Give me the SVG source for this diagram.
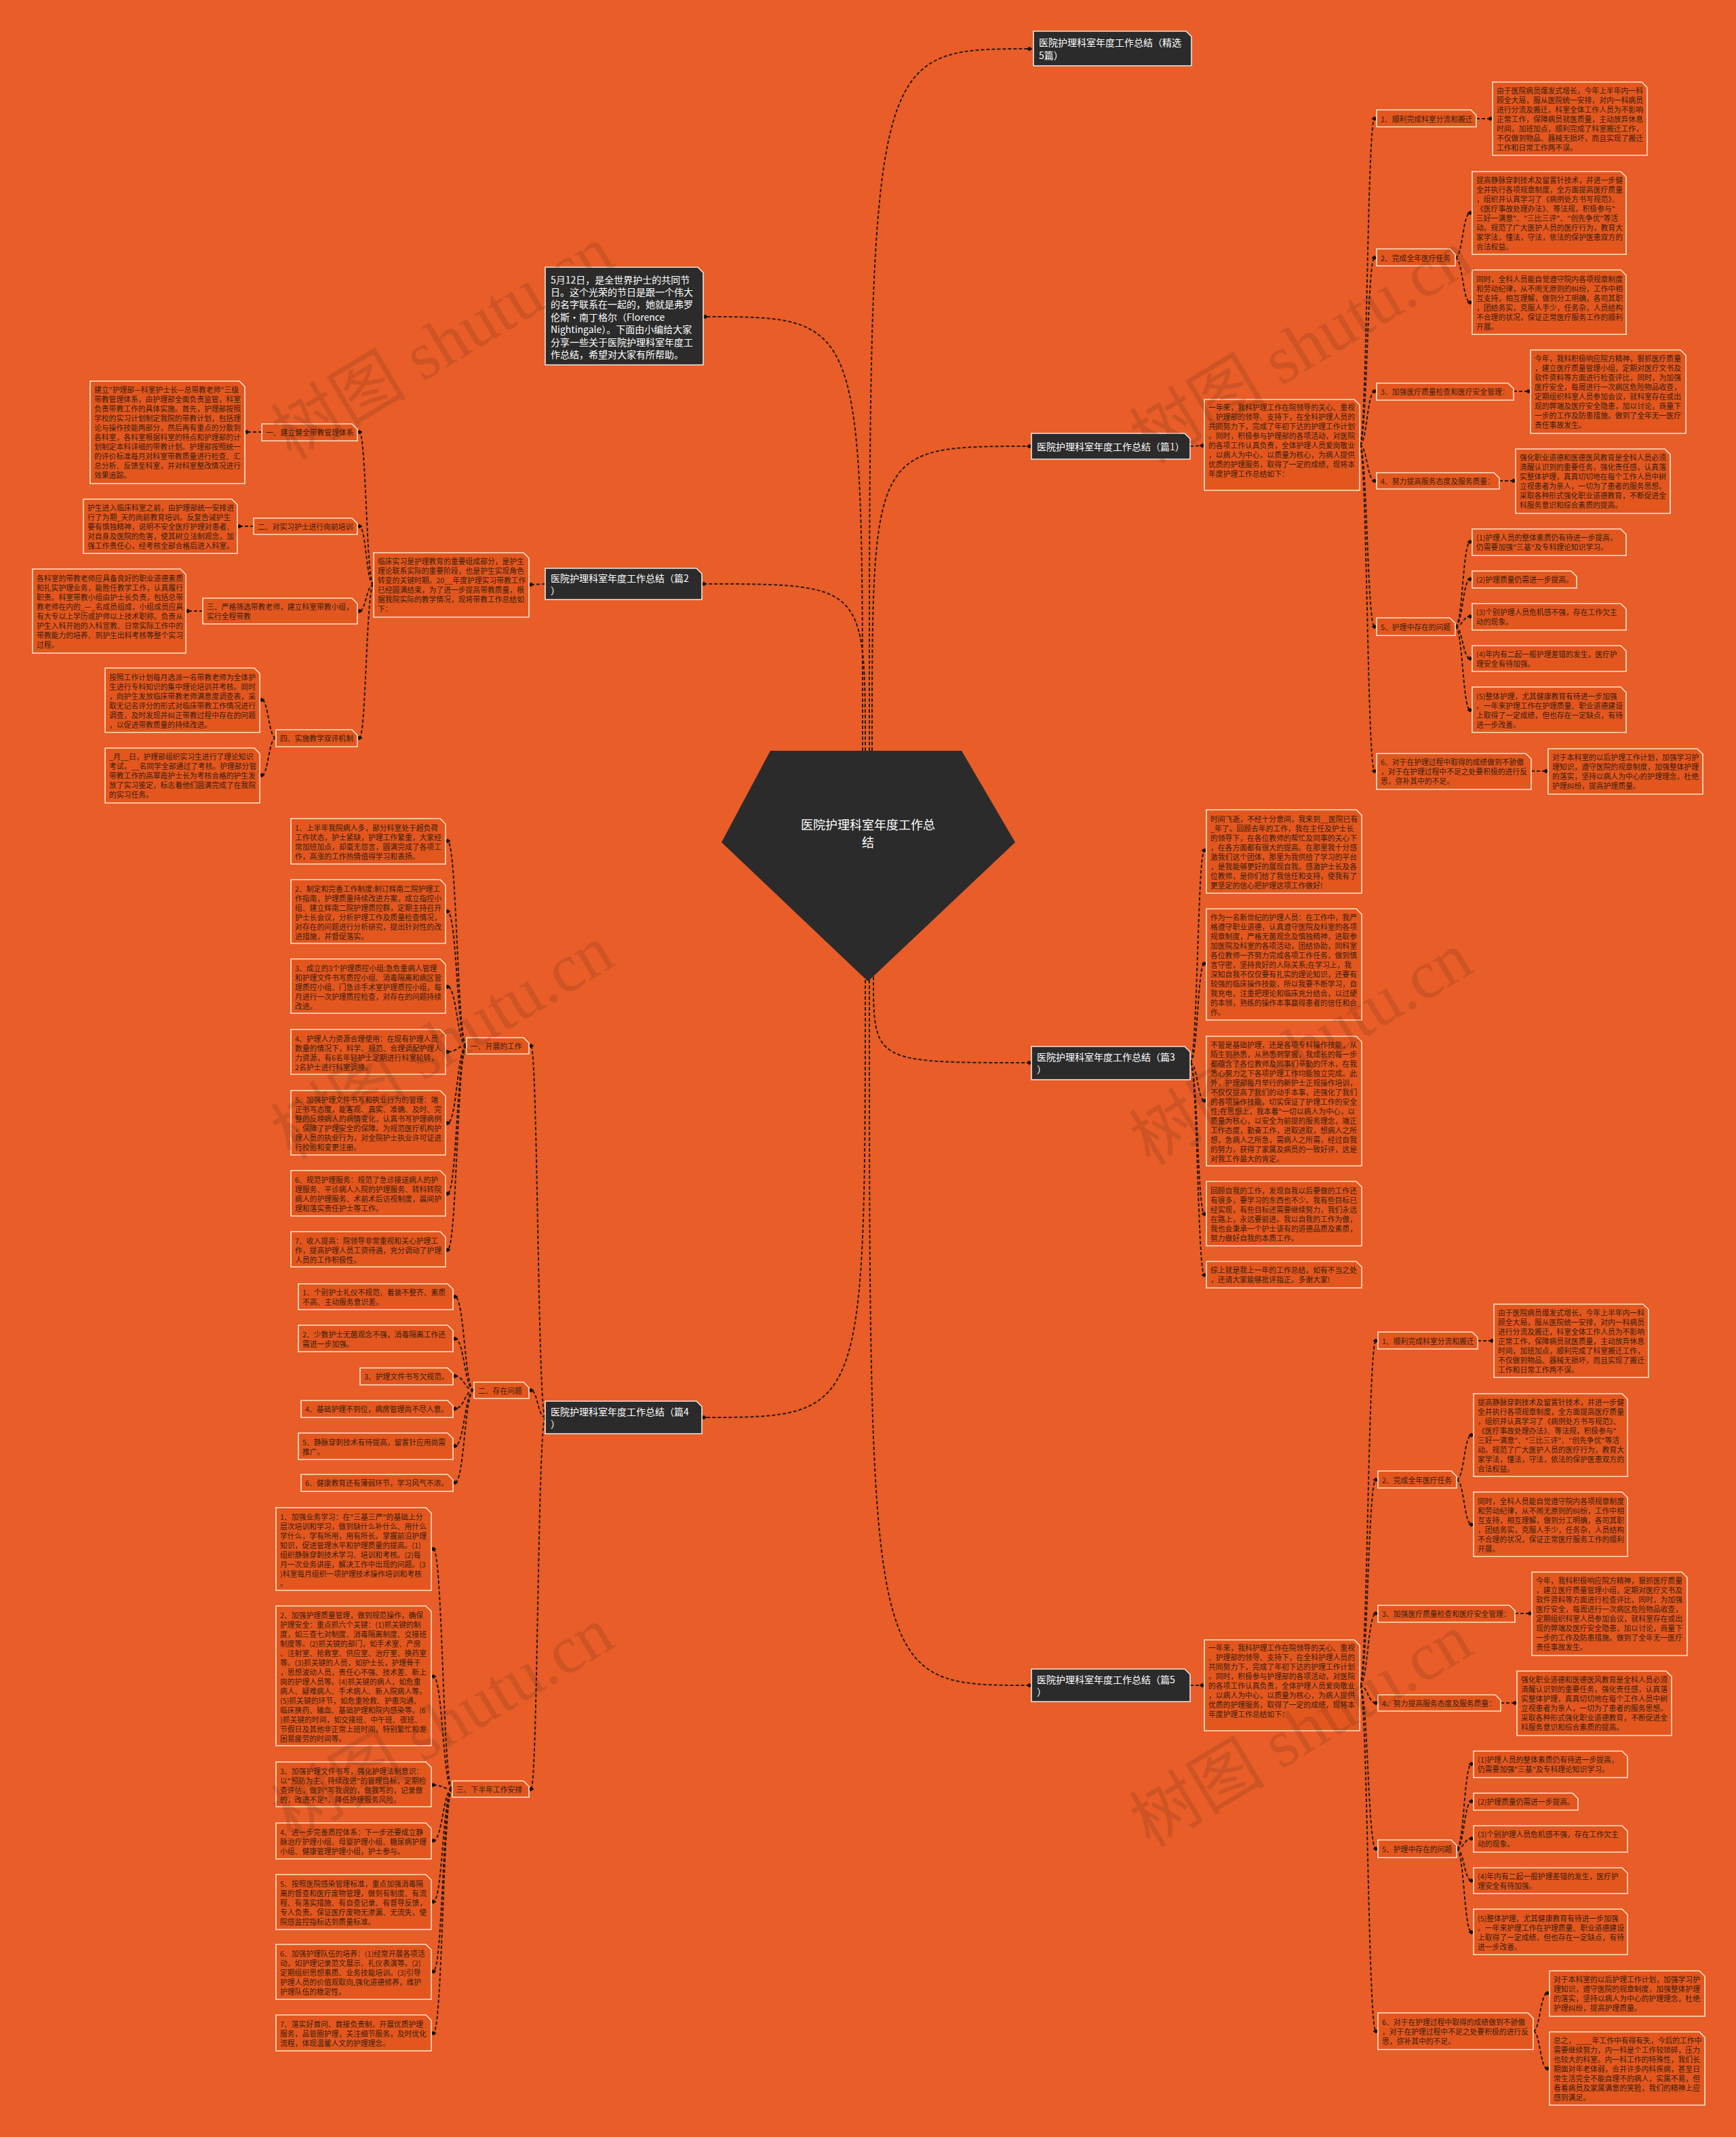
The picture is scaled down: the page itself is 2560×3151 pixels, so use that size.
<svg xmlns="http://www.w3.org/2000/svg" width="2560" height="3151" viewBox="0 0 2560 3151">
<defs>
<style>
.bx{fill:#E3571F;stroke:#FCE2C8;stroke-width:1.6}
.nd{fill:#2B2B2B;stroke:#EDE7E0;stroke-width:1.6}
.t{font-family:"Noto Sans CJK SC","Noto Sans",sans-serif;font-size:10.8px;fill:#3B1C0C;dominant-baseline:central}
.tw{font-family:"Noto Sans CJK SC","Noto Sans",sans-serif;font-size:14px;fill:#FFFFFF;dominant-baseline:central}
.tc{font-family:"Noto Sans CJK SC","Noto Sans",sans-serif;font-size:18px;fill:#FFFFFF;dominant-baseline:central;text-anchor:middle}
.c{fill:none;stroke:#2A1A10;stroke-width:2;stroke-dasharray:5 3;marker-end:url(#dm)}
.wm{font-family:"Liberation Serif","Noto Sans CJK SC",serif;font-size:100px;fill:#4A2A1A;opacity:0.16;text-anchor:middle;dominant-baseline:central}
</style>
<marker id="dm" viewBox="-5 -4 10 8" markerWidth="10" markerHeight="8" markerUnits="userSpaceOnUse" refX="0" refY="0" orient="auto"><path d="M-4.5 0L0 -3.2L4.5 0L0 3.2Z" fill="#1E120A"/></marker>
</defs>
<rect width="2560" height="3151" fill="#E85D28"/>

<g id="connectors">
<path class="c" d="M1282 1107C1282 72 1282 72 1518 72"/>
<path class="c" d="M1272 1107C1272 467 1272 467 1040 467"/>
<path class="c" d="M1286 1107C1286 658 1286 658 1518 658"/>
<path class="c" d="M1276 1107C1276 861 1276 861 1038 861"/>
<path class="c" d="M1288 1440C1288 1567 1288 1567 1518 1567"/>
<path class="c" d="M1276 1445C1276 2090 1276 2090 1038 2090"/>
<path class="c" d="M1282 1445C1282 2485 1282 2485 1518 2485"/>

<path class="c" d="M1755 658L1773 657"/>
<path class="c" d="M2005 656C2016 656 2016 175 2027 175"/>
<path class="c" d="M2005 656C2016 656 2016 380 2027 380"/>
<path class="c" d="M2005 656C2016 656 2016 577 2027 577"/>
<path class="c" d="M2005 656C2016 656 2016 709 2027 709"/>
<path class="c" d="M2005 656C2016 656 2016 924 2027 924"/>
<path class="c" d="M2005 656C2016 656 2016 1137 2027 1137"/>
<path class="c" d="M2177 175L2198 175"/>
<path class="c" d="M2146 380C2157 380 2157 314 2168 314"/>
<path class="c" d="M2146 380C2157 380 2157 446 2168 446"/>
<path class="c" d="M2232 577L2254 577"/>
<path class="c" d="M2211 709L2232 709"/>
<path class="c" d="M2146 924C2157 924 2157 799 2168 799"/>
<path class="c" d="M2146 924C2157 924 2157 854 2168 854"/>
<path class="c" d="M2146 924C2157 924 2157 909 2168 909"/>
<path class="c" d="M2146 924C2157 924 2157 971 2168 971"/>
<path class="c" d="M2146 924C2157 924 2157 1047 2168 1047"/>
<path class="c" d="M2258 1137L2280 1137"/>

<path class="c" d="M1755 2485L1773 2485"/>
<path class="c" d="M2005 2485C2017 2485 2017 1977 2029 1977"/>
<path class="c" d="M2005 2485C2017 2485 2017 2182 2029 2182"/>
<path class="c" d="M2005 2485C2017 2485 2017 2379 2029 2379"/>
<path class="c" d="M2005 2485C2017 2485 2017 2511 2029 2511"/>
<path class="c" d="M2005 2485C2017 2485 2017 2726 2029 2726"/>
<path class="c" d="M2005 2485C2017 2485 2017 2995 2029 2995"/>
<path class="c" d="M2179 1977L2200 1977"/>
<path class="c" d="M2148 2182C2159 2182 2159 2116 2170 2116"/>
<path class="c" d="M2148 2182C2159 2182 2159 2248 2170 2248"/>
<path class="c" d="M2234 2379L2256 2379"/>
<path class="c" d="M2213 2511L2234 2511"/>
<path class="c" d="M2148 2726C2159 2726 2159 2601 2170 2601"/>
<path class="c" d="M2148 2726C2159 2726 2159 2656 2170 2656"/>
<path class="c" d="M2148 2726C2159 2726 2159 2711 2170 2711"/>
<path class="c" d="M2148 2726C2159 2726 2159 2773 2170 2773"/>
<path class="c" d="M2148 2726C2159 2726 2159 2849 2170 2849"/>
<path class="c" d="M2261 2995C2271 2995 2271 2939 2282 2939"/>
<path class="c" d="M2261 2995C2271 2995 2271 3050 2282 3050"/>

<path class="c" d="M1755 1567C1766 1567 1766 1254 1776 1254"/>
<path class="c" d="M1755 1567C1766 1567 1766 1421 1776 1421"/>
<path class="c" d="M1755 1567C1766 1567 1766 1623 1776 1623"/>
<path class="c" d="M1755 1567C1766 1567 1766 1790 1776 1790"/>
<path class="c" d="M1755 1567C1766 1567 1766 1880 1776 1880"/>

<path class="c" d="M804 861L783 862"/>
<path class="c" d="M551 862C540 862 540 637 530 637"/>
<path class="c" d="M551 862C540 862 540 776 530 776"/>
<path class="c" d="M551 862C540 862 540 901 530 901"/>
<path class="c" d="M551 862C540 862 540 1088 530 1088"/>
<path class="c" d="M386 637L364 637"/>
<path class="c" d="M374 776L353 776"/>
<path class="c" d="M299 901L277 901"/>
<path class="c" d="M407 1088C396 1088 396 1032 386 1032"/>
<path class="c" d="M407 1088C396 1088 396 1143 386 1143"/>

<path class="c" d="M804 2090C793 2090 793 1542 783 1542"/>
<path class="c" d="M804 2090C793 2090 793 2050 783 2050"/>
<path class="c" d="M804 2090C793 2090 793 2638 783 2638"/>
<path class="c" d="M688 1542C674 1542 674 1240 660 1240"/>
<path class="c" d="M688 1542C674 1542 674 1344 660 1344"/>
<path class="c" d="M688 1542C674 1542 674 1455 660 1455"/>
<path class="c" d="M688 1542C674 1542 674 1551 660 1551"/>
<path class="c" d="M688 1542C674 1542 674 1656 660 1656"/>
<path class="c" d="M688 1542C674 1542 674 1760 660 1760"/>
<path class="c" d="M688 1542C674 1542 674 1843 660 1843"/>
<path class="c" d="M699 2050C685 2050 685 1912 671 1912"/>
<path class="c" d="M699 2050C685 2050 685 1974 671 1974"/>
<path class="c" d="M699 2050C685 2050 685 2029 671 2029"/>
<path class="c" d="M699 2050C685 2050 685 2077 671 2077"/>
<path class="c" d="M699 2050C685 2050 685 2132 671 2132"/>
<path class="c" d="M699 2050C685 2050 685 2186 671 2186"/>
<path class="c" d="M667 2638C653 2638 653 2284 639 2284"/>
<path class="c" d="M667 2638C653 2638 653 2472 639 2472"/>
<path class="c" d="M667 2638C653 2638 653 2632 639 2632"/>
<path class="c" d="M667 2638C653 2638 653 2714 639 2714"/>
<path class="c" d="M667 2638C653 2638 653 2804 639 2804"/>
<path class="c" d="M667 2638C653 2638 653 2907 639 2907"/>
<path class="c" d="M667 2638C653 2638 653 2998 639 2998"/>
</g>

<g id="center">
<path d="M1136 1107L1418 1107L1497 1242L1280 1447L1064 1242Z" fill="#2B2B2B"/>
<text class="tc"><tspan x="1280" y="1215">医院护理科室年度工作总</tspan><tspan x="1280" y="1241">结</tspan></text>
</g>

<g id="n-top"><path class="nd" d="M1524 46H1749L1757 54V97H1524Z"/><text class="tw"><tspan x="1532" y="62">医院护理科室年度工作总结（精选</tspan><tspan x="1532" y="81">5篇）</tspan></text></g>
<g id="n-intro"><path class="nd" d="M804 394H1029L1037 402V538H804Z"/><text class="tw"><tspan x="812" y="412">5月12日，是全世界护士的共同节</tspan><tspan x="812" y="430">日。这个光荣的节日是跟一个伟大</tspan><tspan x="812" y="448">的名字联系在一起的，她就是弗罗</tspan><tspan x="812" y="467">伦斯·南丁格尔（Florence</tspan><tspan x="812" y="485">Nightingale）。下面由小编给大家</tspan><tspan x="812" y="504">分享一些关于医院护理科室年度工</tspan><tspan x="812" y="522">作总结，希望对大家有所帮助。</tspan></text></g>
<g id="n-p1"><path class="nd" d="M1521 639H1747L1755 647V677H1521Z"/><text class="tw"><tspan x="1529" y="658">医院护理科室年度工作总结（篇1）</tspan></text></g>
<g id="n-p2"><path class="nd" d="M804 838H1027L1035 846V884H804Z"/><text class="tw"><tspan x="812" y="852">医院护理科室年度工作总结（篇2</tspan><tspan x="812" y="870">）</tspan></text></g>
<g id="n-p3"><path class="nd" d="M1521 1543H1747L1755 1551V1592H1521Z"/><text class="tw"><tspan x="1529" y="1558">医院护理科室年度工作总结（篇3</tspan><tspan x="1529" y="1576">）</tspan></text></g>
<g id="n-p4"><path class="nd" d="M804 2066H1027L1035 2074V2114H804Z"/><text class="tw"><tspan x="812" y="2081">医院护理科室年度工作总结（篇4</tspan><tspan x="812" y="2099">）</tspan></text></g>
<g id="n-p5"><path class="nd" d="M1521 2461H1747L1755 2469V2509H1521Z"/><text class="tw"><tspan x="1529" y="2476">医院护理科室年度工作总结（篇5</tspan><tspan x="1529" y="2494">）</tspan></text></g>

<!-- 篇1 -->
<g id="p1-sum"><path class="bx" d="M1776 589H1997L2005 597V723H1776Z"/><text class="t"><tspan x="1782" y="600">一年来，我科护理工作在院领导的关心、重视</tspan><tspan x="1782" y="614">、护理部的领导、支持下，在全科护理人员的</tspan><tspan x="1782" y="628">共同努力下，完成了年初下达的护理工作计划</tspan><tspan x="1782" y="642">。同时，积极参与护理部的各项活动，对医院</tspan><tspan x="1782" y="656">的各项工作认真负责，全体护理人员爱岗敬业</tspan><tspan x="1782" y="670">，以病人为中心，以质量为核心，为病人提供</tspan><tspan x="1782" y="684">优质的护理服务，取得了一定的成绩，现将本</tspan><tspan x="1782" y="698">年度护理工作总结如下：</tspan></text></g>
<g id="p1-i1"><path class="bx" d="M2030 162H2169L2177 170V187H2030Z"/><text class="t"><tspan x="2036" y="175">1、顺利完成科室分流和搬迁</tspan></text></g>
<g id="p1-t1"><path class="bx" d="M2201 121H2421L2429 129V229H2201Z"/><text class="t"><tspan x="2207" y="133">由于医院病员爆发式增长，今年上半年内一科</tspan><tspan x="2207" y="147">顾全大局，服从医院统一安排，对内一科病员</tspan><tspan x="2207" y="161">进行分流及搬迁，科室全体工作人员为不影响</tspan><tspan x="2207" y="175">正常工作，保障病员就医质量，主动放弃休息</tspan><tspan x="2207" y="189">时间，加班加点，顺利完成了科室搬迁工作，</tspan><tspan x="2207" y="203">不仅做到物品、器械无损坏，而且实现了搬迁</tspan><tspan x="2207" y="217">工作和日常工作两不误。</tspan></text></g>
<g id="p1-i2"><path class="bx" d="M2030 367H2138L2146 375V392H2030Z"/><text class="t"><tspan x="2036" y="380">2、完成全年医疗任务</tspan></text></g>
<g id="p1-t2a"><path class="bx" d="M2171 253H2390L2398 261V375H2171Z"/><text class="t"><tspan x="2177" y="265">提高静脉穿刺技术及留置针技术，并进一步健</tspan><tspan x="2177" y="279">全并执行各项规章制度，全方面提高医疗质量</tspan><tspan x="2177" y="293">，组织并认真学习了《病例处方书写规范》、</tspan><tspan x="2177" y="307">《医疗事故处理办法》、等法规，积极参与"</tspan><tspan x="2177" y="321">三好一满意"、"三比三评"、"创先争优"等活</tspan><tspan x="2177" y="335">动。规范了广大医护人员的医疗行为，教育大</tspan><tspan x="2177" y="349">家学法，懂法，守法，依法的保护医患双方的</tspan><tspan x="2177" y="363">合法权益。</tspan></text></g>
<g id="p1-t2b"><path class="bx" d="M2171 398H2390L2398 406V493H2171Z"/><text class="t"><tspan x="2177" y="411">同时，全科人员能自觉遵守院内各项规章制度</tspan><tspan x="2177" y="425">和劳动纪律，从不闹无原则的纠纷，工作中相</tspan><tspan x="2177" y="439">互支持，相互理解，做到分工明确，各司其职</tspan><tspan x="2177" y="453">，团结务实，克服人手少，任务杂，人员结构</tspan><tspan x="2177" y="467">不合理的状况，保证正常医疗服务工作的顺利</tspan><tspan x="2177" y="481">开展。</tspan></text></g>
<g id="p1-i3"><path class="bx" d="M2030 565H2224L2232 573V590H2030Z"/><text class="t"><tspan x="2036" y="577">3、加强医疗质量检查和医疗安全管理：</tspan></text></g>
<g id="p1-t3"><path class="bx" d="M2257 516H2478L2486 524V639H2257Z"/><text class="t"><tspan x="2263" y="528">今年，我科积极响应院方精神，狠抓医疗质量</tspan><tspan x="2263" y="542">，建立医疗质量管理小组，定期对医疗文书及</tspan><tspan x="2263" y="556">软件资料等方面进行检查评比，同时，为加强</tspan><tspan x="2263" y="570">医疗安全，每周进行一次病区危险物品收查，</tspan><tspan x="2263" y="584">定期组织科室人员参加会议，就科室存在或出</tspan><tspan x="2263" y="598">现的弊端及医疗安全隐患，加以讨论，商量下</tspan><tspan x="2263" y="612">一步的工作及防患措施。做到了全年无一医疗</tspan><tspan x="2263" y="626">责任事故发生。</tspan></text></g>
<g id="p1-i4"><path class="bx" d="M2030 697H2203L2211 705V721H2030Z"/><text class="t"><tspan x="2036" y="709">4、努力提高服务态度及服务质量：</tspan></text></g>
<g id="p1-t4"><path class="bx" d="M2235 662H2455L2463 670V757H2235Z"/><text class="t"><tspan x="2241" y="674">强化职业道德和医德医风教育是全科人员必须</tspan><tspan x="2241" y="688">清醒认识到的重要任务，强化责任感，认真落</tspan><tspan x="2241" y="702">实整体护理，真真切切地在每个工作人员中树</tspan><tspan x="2241" y="716">立视患者为亲人，一切为了患者的服务思想。</tspan><tspan x="2241" y="730">采取各种形式强化职业道德教育，不断促进全</tspan><tspan x="2241" y="744">科服务意识和综合素质的提高。</tspan></text></g>
<g id="p1-i5"><path class="bx" d="M2030 911H2138L2146 919V937H2030Z"/><text class="t"><tspan x="2036" y="924">5、护理中存在的问题</tspan></text></g>
<g id="p1-q1"><path class="bx" d="M2171 780H2390L2398 788V819H2171Z"/><text class="t"><tspan x="2177" y="792">(1)护理人员的整体素质仍有待进一步提高，</tspan><tspan x="2177" y="806">仍需要加强"三基"及专科理论知识学习。</tspan></text></g>
<g id="p1-q2"><path class="bx" d="M2171 842H2317L2325 850V867H2171Z"/><text class="t"><tspan x="2177" y="854">(2)护理质量仍需进一步提高。</tspan></text></g>
<g id="p1-q3"><path class="bx" d="M2171 890H2390L2398 898V929H2171Z"/><text class="t"><tspan x="2177" y="902">(3)个别护理人员危机感不强，存在工作欠主</tspan><tspan x="2177" y="916">动的现象。</tspan></text></g>
<g id="p1-q4"><path class="bx" d="M2171 952H2390L2398 960V990H2171Z"/><text class="t"><tspan x="2177" y="964">(4)年内有二起一般护理差错的发生，医疗护</tspan><tspan x="2177" y="978">理安全有待加强。</tspan></text></g>
<g id="p1-q5"><path class="bx" d="M2171 1013H2390L2398 1021V1080H2171Z"/><text class="t"><tspan x="2177" y="1026">(5)整体护理，尤其健康教育有待进一步加强</tspan><tspan x="2177" y="1040">。一年来护理工作在护理质量、职业道德建设</tspan><tspan x="2177" y="1054">上取得了一定成绩，但也存在一定缺点，有待</tspan><tspan x="2177" y="1068">进一步改善。</tspan></text></g>
<g id="p1-i6"><path class="bx" d="M2030 1111H2250L2258 1119V1164H2030Z"/><text class="t"><tspan x="2036" y="1123">6、对于在护理过程中取得的成绩做到不骄傲</tspan><tspan x="2036" y="1137">，对于在护理过程中不足之处要积极的进行反</tspan><tspan x="2036" y="1151">思，弥补其中的不足。</tspan></text></g>
<g id="p1-t6"><path class="bx" d="M2283 1104H2503L2511 1112V1171H2283Z"/><text class="t"><tspan x="2289" y="1116">对于本科室的以后护理工作计划，加强学习护</tspan><tspan x="2289" y="1130">理知识，遵守医院的规章制度，加强整体护理</tspan><tspan x="2289" y="1144">的落实，坚持以病人为中心的护理理念，杜绝</tspan><tspan x="2289" y="1158">护理纠纷，提高护理质量。</tspan></text></g>

<!-- 篇5 -->
<g id="p5-sum"><path class="bx" d="M1776 2418H1997L2005 2426V2552H1776Z"/><text class="t"><tspan x="1782" y="2429">一年来，我科护理工作在院领导的关心、重视</tspan><tspan x="1782" y="2443">、护理部的领导、支持下，在全科护理人员的</tspan><tspan x="1782" y="2457">共同努力下，完成了年初下达的护理工作计划</tspan><tspan x="1782" y="2471">。同时，积极参与护理部的各项活动，对医院</tspan><tspan x="1782" y="2485">的各项工作认真负责，全体护理人员爱岗敬业</tspan><tspan x="1782" y="2499">，以病人为中心，以质量为核心，为病人提供</tspan><tspan x="1782" y="2513">优质的护理服务，取得了一定的成绩，现将本</tspan><tspan x="1782" y="2527">年度护理工作总结如下：</tspan></text></g>
<g id="p5-i1"><path class="bx" d="M2032 1964H2171L2179 1972V1989H2032Z"/><text class="t"><tspan x="2038" y="1977">1、顺利完成科室分流和搬迁</tspan></text></g>
<g id="p5-t1"><path class="bx" d="M2203 1923H2423L2431 1931V2031H2203Z"/><text class="t"><tspan x="2209" y="1935">由于医院病员爆发式增长，今年上半年内一科</tspan><tspan x="2209" y="1949">顾全大局，服从医院统一安排，对内一科病员</tspan><tspan x="2209" y="1963">进行分流及搬迁，科室全体工作人员为不影响</tspan><tspan x="2209" y="1977">正常工作，保障病员就医质量，主动放弃休息</tspan><tspan x="2209" y="1991">时间，加班加点，顺利完成了科室搬迁工作，</tspan><tspan x="2209" y="2005">不仅做到物品、器械无损坏，而且实现了搬迁</tspan><tspan x="2209" y="2019">工作和日常工作两不误。</tspan></text></g>
<g id="p5-i2"><path class="bx" d="M2032 2169H2140L2148 2177V2194H2032Z"/><text class="t"><tspan x="2038" y="2182">2、完成全年医疗任务</tspan></text></g>
<g id="p5-t2a"><path class="bx" d="M2173 2055H2392L2400 2063V2177H2173Z"/><text class="t"><tspan x="2179" y="2067">提高静脉穿刺技术及留置针技术，并进一步健</tspan><tspan x="2179" y="2081">全并执行各项规章制度，全方面提高医疗质量</tspan><tspan x="2179" y="2095">，组织并认真学习了《病例处方书写规范》、</tspan><tspan x="2179" y="2109">《医疗事故处理办法》、等法规，积极参与"</tspan><tspan x="2179" y="2123">三好一满意"、"三比三评"、"创先争优"等活</tspan><tspan x="2179" y="2137">动。规范了广大医护人员的医疗行为，教育大</tspan><tspan x="2179" y="2151">家学法，懂法，守法，依法的保护医患双方的</tspan><tspan x="2179" y="2165">合法权益。</tspan></text></g>
<g id="p5-t2b"><path class="bx" d="M2173 2200H2392L2400 2208V2295H2173Z"/><text class="t"><tspan x="2179" y="2213">同时，全科人员能自觉遵守院内各项规章制度</tspan><tspan x="2179" y="2227">和劳动纪律，从不闹无原则的纠纷，工作中相</tspan><tspan x="2179" y="2241">互支持，相互理解，做到分工明确，各司其职</tspan><tspan x="2179" y="2255">，团结务实，克服人手少，任务杂，人员结构</tspan><tspan x="2179" y="2269">不合理的状况，保证正常医疗服务工作的顺利</tspan><tspan x="2179" y="2283">开展。</tspan></text></g>
<g id="p5-i3"><path class="bx" d="M2032 2367H2226L2234 2375V2392H2032Z"/><text class="t"><tspan x="2038" y="2379">3、加强医疗质量检查和医疗安全管理：</tspan></text></g>
<g id="p5-t3"><path class="bx" d="M2259 2318H2480L2488 2326V2441H2259Z"/><text class="t"><tspan x="2265" y="2330">今年，我科积极响应院方精神，狠抓医疗质量</tspan><tspan x="2265" y="2344">，建立医疗质量管理小组，定期对医疗文书及</tspan><tspan x="2265" y="2358">软件资料等方面进行检查评比，同时，为加强</tspan><tspan x="2265" y="2372">医疗安全，每周进行一次病区危险物品收查，</tspan><tspan x="2265" y="2386">定期组织科室人员参加会议，就科室存在或出</tspan><tspan x="2265" y="2400">现的弊端及医疗安全隐患，加以讨论，商量下</tspan><tspan x="2265" y="2414">一步的工作及防患措施。做到了全年无一医疗</tspan><tspan x="2265" y="2428">责任事故发生。</tspan></text></g>
<g id="p5-i4"><path class="bx" d="M2032 2499H2205L2213 2507V2523H2032Z"/><text class="t"><tspan x="2038" y="2511">4、努力提高服务态度及服务质量：</tspan></text></g>
<g id="p5-t4"><path class="bx" d="M2237 2464H2457L2465 2472V2559H2237Z"/><text class="t"><tspan x="2243" y="2476">强化职业道德和医德医风教育是全科人员必须</tspan><tspan x="2243" y="2490">清醒认识到的重要任务，强化责任感，认真落</tspan><tspan x="2243" y="2504">实整体护理，真真切切地在每个工作人员中树</tspan><tspan x="2243" y="2518">立视患者为亲人，一切为了患者的服务思想。</tspan><tspan x="2243" y="2532">采取各种形式强化职业道德教育，不断促进全</tspan><tspan x="2243" y="2546">科服务意识和综合素质的提高。</tspan></text></g>
<g id="p5-i5"><path class="bx" d="M2032 2713H2140L2148 2721V2739H2032Z"/><text class="t"><tspan x="2038" y="2726">5、护理中存在的问题</tspan></text></g>
<g id="p5-q1"><path class="bx" d="M2173 2582H2392L2400 2590V2621H2173Z"/><text class="t"><tspan x="2179" y="2594">(1)护理人员的整体素质仍有待进一步提高，</tspan><tspan x="2179" y="2608">仍需要加强"三基"及专科理论知识学习。</tspan></text></g>
<g id="p5-q2"><path class="bx" d="M2173 2644H2319L2327 2652V2669H2173Z"/><text class="t"><tspan x="2179" y="2656">(2)护理质量仍需进一步提高。</tspan></text></g>
<g id="p5-q3"><path class="bx" d="M2173 2692H2392L2400 2700V2731H2173Z"/><text class="t"><tspan x="2179" y="2704">(3)个别护理人员危机感不强，存在工作欠主</tspan><tspan x="2179" y="2718">动的现象。</tspan></text></g>
<g id="p5-q4"><path class="bx" d="M2173 2754H2392L2400 2762V2792H2173Z"/><text class="t"><tspan x="2179" y="2766">(4)年内有二起一般护理差错的发生，医疗护</tspan><tspan x="2179" y="2780">理安全有待加强。</tspan></text></g>
<g id="p5-q5"><path class="bx" d="M2173 2815H2392L2400 2823V2882H2173Z"/><text class="t"><tspan x="2179" y="2828">(5)整体护理，尤其健康教育有待进一步加强</tspan><tspan x="2179" y="2842">。一年来护理工作在护理质量、职业道德建设</tspan><tspan x="2179" y="2856">上取得了一定成绩，但也存在一定缺点，有待</tspan><tspan x="2179" y="2870">进一步改善。</tspan></text></g>
<g id="p5-i6"><path class="bx" d="M2032 2968H2253L2261 2976V3022H2032Z"/><text class="t"><tspan x="2038" y="2981">6、对于在护理过程中取得的成绩做到不骄傲</tspan><tspan x="2038" y="2995">，对于在护理过程中不足之处要积极的进行反</tspan><tspan x="2038" y="3009">思，弥补其中的不足。</tspan></text></g>
<g id="p5-t6a"><path class="bx" d="M2285 2906H2506L2514 2914V2973H2285Z"/><text class="t"><tspan x="2291" y="2918">对于本科室的以后护理工作计划，加强学习护</tspan><tspan x="2291" y="2932">理知识，遵守医院的规章制度，加强整体护理</tspan><tspan x="2291" y="2946">的落实，坚持以病人为中心的护理理念，杜绝</tspan><tspan x="2291" y="2960">护理纠纷，提高护理质量。</tspan></text></g>
<g id="p5-t6b"><path class="bx" d="M2285 2996H2506L2514 3004V3104H2285Z"/><text class="t"><tspan x="2291" y="3008">总之，____年工作中有得有失，今后的工作中</tspan><tspan x="2291" y="3022">需要继续努力，内一科是个工作较琐碎，压力</tspan><tspan x="2291" y="3036">也较大的科室。内一科工作的特殊性，我们长</tspan><tspan x="2291" y="3050">期面对年老体弱，合并许多内科疾病，甚至日</tspan><tspan x="2291" y="3064">常生活完全不能自理不的病人，实属不易，但</tspan><tspan x="2291" y="3078">看着病员及家属满意的笑脸，我们的精神上应</tspan><tspan x="2291" y="3092">感到满足。</tspan></text></g>

<!-- 篇3 -->
<g id="p3-b1"><path class="bx" d="M1779 1194H2000L2008 1202V1317H1779Z"/><text class="t"><tspan x="1785" y="1207">时间飞逝，不经十分意间，我来到__医院已有</tspan><tspan x="1785" y="1221">_年了。回顾去年的工作，我在主任及护士长</tspan><tspan x="1785" y="1235">的领导下，在各位教师的帮忙及同事的关心下</tspan><tspan x="1785" y="1249">，在各方面都有很大的提高。在那里我十分感</tspan><tspan x="1785" y="1263">激我们这个团体，那里为我供给了学习的平台</tspan><tspan x="1785" y="1277">，是我能够更好的展现自我。感激护士长及各</tspan><tspan x="1785" y="1291">位教师，是你们给了我信任和支持，使我有了</tspan><tspan x="1785" y="1305">更坚定的信心把护理这项工作做好!</tspan></text></g>
<g id="p3-b2"><path class="bx" d="M1779 1340H2000L2008 1348V1504H1779Z"/><text class="t"><tspan x="1785" y="1352">作为一名新世纪的护理人员：在工作中，我严</tspan><tspan x="1785" y="1366">格遵守职业道德，认真遵守医院及科室的各项</tspan><tspan x="1785" y="1380">规章制度，严格无菌观念及慎独精神，进取参</tspan><tspan x="1785" y="1394">加医院及科室的各项活动，团结协助，同科室</tspan><tspan x="1785" y="1408">各位教师一齐努力完成各项工作任务，做到慎</tspan><tspan x="1785" y="1422">言守密，坚持良好的人际关系;在学习上，我</tspan><tspan x="1785" y="1436">深知自我不仅仅要有扎实的理论知识，还要有</tspan><tspan x="1785" y="1450">较强的临床操作技能，所以我要不断学习，自</tspan><tspan x="1785" y="1464">我充电，注重把理论和临床充分结合，以过硬</tspan><tspan x="1785" y="1478">的本领，熟练的操作本事赢得患者的信任和合</tspan><tspan x="1785" y="1492">作。</tspan></text></g>
<g id="p3-b3"><path class="bx" d="M1779 1528H2000L2008 1536V1719H1779Z"/><text class="t"><tspan x="1785" y="1540">不管是基础护理，还是各项专科操作技能，从</tspan><tspan x="1785" y="1554">陌生到熟悉，从熟悉到掌握，我成长的每一步</tspan><tspan x="1785" y="1568">都蕴含了各位教师及同事们辛勤的汗水，在我</tspan><tspan x="1785" y="1582">悉心努力之下各项护理工作均能独立完成。此</tspan><tspan x="1785" y="1596">外，护理部每月举行的新护士正规操作培训，</tspan><tspan x="1785" y="1610">不仅仅提高了我们的动手本事，还强化了我们</tspan><tspan x="1785" y="1624">的各项操作技能，切实保证了护理工作的安全</tspan><tspan x="1785" y="1638">性;在思想上，我本着"一切以病人为中心，以</tspan><tspan x="1785" y="1652">质量为核心，以安全为前提的服务理念，端正</tspan><tspan x="1785" y="1666">工作态度，勤奋工作，进取进取，想病人之所</tspan><tspan x="1785" y="1680">想，急病人之所急，需病人之所需，经过自我</tspan><tspan x="1785" y="1694">的努力，获得了家属及病员的一致好评，这是</tspan><tspan x="1785" y="1708">对我工作最大的肯定。</tspan></text></g>
<g id="p3-b4"><path class="bx" d="M1779 1742H2000L2008 1750V1837H1779Z"/><text class="t"><tspan x="1785" y="1755">回顾自我的工作，发现自我以后要做的工作还</tspan><tspan x="1785" y="1769">有很多，要学习的东西也不少。我有些目标已</tspan><tspan x="1785" y="1783">经实现，有些目标还需要继续努力，我们永远</tspan><tspan x="1785" y="1797">在路上，永远要前进。我以自我的工作为傲，</tspan><tspan x="1785" y="1811">我也会秉承一个护士该有的道德品质及素质，</tspan><tspan x="1785" y="1825">努力做好自我的本质工作。</tspan></text></g>
<g id="p3-b5"><path class="bx" d="M1779 1860H2000L2008 1868V1899H1779Z"/><text class="t"><tspan x="1785" y="1872">综上就是我上一年的工作总结，如有不当之处</tspan><tspan x="1785" y="1886">，还请大家能够批评指正。多谢大家!</tspan></text></g>

<!-- 篇2 -->
<g id="p2-sum"><path class="bx" d="M551 815H772L780 823V910H551Z"/><text class="t"><tspan x="557" y="827">临床实习是护理教育的重要组成部分，是护生</tspan><tspan x="557" y="841">理论联系实际的重要阶段，也是护生实现角色</tspan><tspan x="557" y="855">转变的关键时期。20__年度护理实习带教工作</tspan><tspan x="557" y="869">已经圆满结束，为了进一步提高带教质量，根</tspan><tspan x="557" y="883">据我院实际的教学情况，现将带教工作总结如</tspan><tspan x="557" y="897">下：</tspan></text></g>
<g id="p2-i1"><path class="bx" d="M386 625H519L527 633V650H386Z"/><text class="t"><tspan x="392" y="637">一、建立健全带教管理体系</tspan></text></g>
<g id="p2-t1"><path class="bx" d="M133 562H353L361 570V713H133Z"/><text class="t"><tspan x="139" y="574">建立"护理部—科室护士长—总带教老师"三级</tspan><tspan x="139" y="588">带教管理体系，由护理部全面负责监管，科室</tspan><tspan x="139" y="602">负责带教工作的具体实施。首先，护理部按照</tspan><tspan x="139" y="616">学校的实习计划制定我院的带教计划，包括理</tspan><tspan x="139" y="630">论与操作技能两部分，然后再有重点的分散到</tspan><tspan x="139" y="644">各科室，各科室根据科室的特点和护理部的计</tspan><tspan x="139" y="658">划制定本科详细的带教计划。护理部按照统一</tspan><tspan x="139" y="672">的评价标准每月对科室带教质量进行检查、汇</tspan><tspan x="139" y="686">总分析、反馈至科室，并对科室整改情况进行</tspan><tspan x="139" y="700">效果追踪。</tspan></text></g>
<g id="p2-i2"><path class="bx" d="M374 764H519L527 772V788H374Z"/><text class="t"><tspan x="380" y="776">二、对实习护士进行岗前培训</tspan></text></g>
<g id="p2-t2"><path class="bx" d="M123 736H342L350 744V816H123Z"/><text class="t"><tspan x="129" y="748">护生进入临床科室之前，由护理部统一安排进</tspan><tspan x="129" y="762">行了为期_天的岗前教育培训。反复告诫护生</tspan><tspan x="129" y="776">要有慎独精神，说明不安全医疗护理对患者、</tspan><tspan x="129" y="790">对自身及医院的危害，使其树立法制观念，加</tspan><tspan x="129" y="804">强工作责任心，经考核全部合格后进入科室。</tspan></text></g>
<g id="p2-i3"><path class="bx" d="M299 882H519L527 890V920H299Z"/><text class="t"><tspan x="305" y="894">三、严格筛选带教老师，建立科室带教小组，</tspan><tspan x="305" y="908">实行全程带教</tspan></text></g>
<g id="p2-t3"><path class="bx" d="M48 839H266L274 847V963H48Z"/><text class="t"><tspan x="54" y="852">各科室的带教老师应具备良好的职业道德素质</tspan><tspan x="54" y="866">和扎实护理业务，能胜任教学工作，认真履行</tspan><tspan x="54" y="880">职责。科室带教小组由护士长负责，包括总带</tspan><tspan x="54" y="894">教老师在内的_—_名成员组成，小组成员应具</tspan><tspan x="54" y="908">有大专以上学历或护师以上技术职称。负责从</tspan><tspan x="54" y="922">护生入科开始的入科宣教、日常实际工作中的</tspan><tspan x="54" y="936">带教能力的培养、到护生出科考核等整个实习</tspan><tspan x="54" y="950">过程。</tspan></text></g>
<g id="p2-i4"><path class="bx" d="M407 1076H519L527 1084V1101H407Z"/><text class="t"><tspan x="413" y="1088">四、实施教学双评机制</tspan></text></g>
<g id="p2-t4a"><path class="bx" d="M155 985H375L383 993V1080H155Z"/><text class="t"><tspan x="161" y="998">按照工作计划每月选派一名带教老师为全体护</tspan><tspan x="161" y="1012">生进行专科知识的集中理论培训并考核。同时</tspan><tspan x="161" y="1026">，向护生发放临床带教老师满意度调查表，采</tspan><tspan x="161" y="1040">取无记名评分的形式对临床带教工作情况进行</tspan><tspan x="161" y="1054">调查，及时发现并纠正带教过程中存在的问题</tspan><tspan x="161" y="1068">，以促进带教质量的持续改进。</tspan></text></g>
<g id="p2-t4b"><path class="bx" d="M155 1103H375L383 1111V1184H155Z"/><text class="t"><tspan x="161" y="1115">_月__日，护理部组织实习生进行了理论知识</tspan><tspan x="161" y="1129">考试，__名同学全部通过了考核。护理部分管</tspan><tspan x="161" y="1143">带教工作的高翠霞护士长为考核合格的护生发</tspan><tspan x="161" y="1157">放了实习鉴定，标志着他们圆满完成了在我院</tspan><tspan x="161" y="1171">的实习任务。</tspan></text></g>

<!-- 篇4 -->
<g id="p4-l1"><path class="bx" d="M688 1530H772L780 1538V1554H688Z"/><text class="t"><tspan x="694" y="1542">一、开展的工作</tspan></text></g>
<g id="p4-l2"><path class="bx" d="M699 2038H772L780 2046V2062H699Z"/><text class="t"><tspan x="705" y="2050">二、存在问题</tspan></text></g>
<g id="p4-l3"><path class="bx" d="M667 2626H772L780 2634V2650H667Z"/><text class="t"><tspan x="673" y="2638">三、下半年工作安排</tspan></text></g>
<g id="p4-a1"><path class="bx" d="M429 1207H649L657 1215V1274H429Z"/><text class="t"><tspan x="435" y="1220">1、上半年我院病人多，部分科室处于超负荷</tspan><tspan x="435" y="1234">工作状态，护士紧缺，护理工作繁重，大家经</tspan><tspan x="435" y="1248">常加班加点，却毫无怨言，圆满完成了各项工</tspan><tspan x="435" y="1262">作，高涨的工作热情值得学习和表扬。</tspan></text></g>
<g id="p4-a2"><path class="bx" d="M429 1297H649L657 1305V1391H429Z"/><text class="t"><tspan x="435" y="1310">2、制定和完善工作制度:制订辉南二院护理工</tspan><tspan x="435" y="1324">作指南，护理质量持续改进方案，成立指控小</tspan><tspan x="435" y="1338">组、建立辉南二院护理质控群，定期主持召开</tspan><tspan x="435" y="1352">护士长会议，分析护理工作及质量检查情况，</tspan><tspan x="435" y="1366">对存在的问题进行分析研究，提出针对性的改</tspan><tspan x="435" y="1380">进措施，并督促落实。</tspan></text></g>
<g id="p4-a3"><path class="bx" d="M429 1414H649L657 1422V1494H429Z"/><text class="t"><tspan x="435" y="1427">3、成立的3个护理质控小组:急危重病人管理</tspan><tspan x="435" y="1441">和护理文件书写质控小组、消毒隔离和病区管</tspan><tspan x="435" y="1455">理质控小组、门急诊手术室护理质控小组，每</tspan><tspan x="435" y="1469">月进行一次护理质控检查，对存在的问题持续</tspan><tspan x="435" y="1483">改进。</tspan></text></g>
<g id="p4-a4"><path class="bx" d="M429 1518H649L657 1526V1584H429Z"/><text class="t"><tspan x="435" y="1531">4、护理人力资源合理使用：在现有护理人员</tspan><tspan x="435" y="1545">数量的情况下，科学、规范、合理调配护理人</tspan><tspan x="435" y="1559">力资源，有6名年轻护士定期进行科室轮转，</tspan><tspan x="435" y="1573">2名护士进行科室调换。</tspan></text></g>
<g id="p4-a5"><path class="bx" d="M429 1608H649L657 1616V1703H429Z"/><text class="t"><tspan x="435" y="1621">5、加强护理文件书写和执业行为的管理：端</tspan><tspan x="435" y="1635">正书写态度，能客观、真实、准确、及时、完</tspan><tspan x="435" y="1649">整的反映病人的病情变化，认真书写护理病例</tspan><tspan x="435" y="1663">，保障了护理安全的保障。为规范医疗机构护</tspan><tspan x="435" y="1677">理人员的执业行为，对全院护士执业许可证进</tspan><tspan x="435" y="1691">行校验和变更注册。</tspan></text></g>
<g id="p4-a6"><path class="bx" d="M429 1726H649L657 1734V1793H429Z"/><text class="t"><tspan x="435" y="1739">6、规范护理服务：规范了急诊接送病人的护</tspan><tspan x="435" y="1753">理服务、平诊病人入院的护理服务、转科转院</tspan><tspan x="435" y="1767">病人的护理服务、术前术后访视制度，晨间护</tspan><tspan x="435" y="1781">理和落实责任护士等工作。</tspan></text></g>
<g id="p4-a7"><path class="bx" d="M429 1816H649L657 1824V1868H429Z"/><text class="t"><tspan x="435" y="1829">7、收入提高：院领导非常重视和关心护理工</tspan><tspan x="435" y="1843">作，提高护理人员工资待遇，充分调动了护理</tspan><tspan x="435" y="1857">人员的工作积极性。</tspan></text></g>
<g id="p4-b1"><path class="bx" d="M440 1893H660L668 1901V1931H440Z"/><text class="t"><tspan x="446" y="1905">1、个别护士礼仪不规范、着装不整齐、素质</tspan><tspan x="446" y="1919">不高、主动服务意识差。</tspan></text></g>
<g id="p4-b2"><path class="bx" d="M440 1954H660L668 1962V1993H440Z"/><text class="t"><tspan x="446" y="1967">2、少数护士无菌观念不强，消毒隔离工作还</tspan><tspan x="446" y="1981">需进一步加强。</tspan></text></g>
<g id="p4-b3"><path class="bx" d="M531 2017H660L668 2025V2042H531Z"/><text class="t"><tspan x="537" y="2029">3、护理文件书写欠规范。</tspan></text></g>
<g id="p4-b4"><path class="bx" d="M444 2065H660L668 2073V2090H444Z"/><text class="t"><tspan x="450" y="2077">4、基础护理不到位，病房管理尚不尽人意。</tspan></text></g>
<g id="p4-b5"><path class="bx" d="M440 2113H660L668 2121V2152H440Z"/><text class="t"><tspan x="446" y="2126">5、静脉穿刺技术有待提高，留置针应用尚需</tspan><tspan x="446" y="2140">推广。</tspan></text></g>
<g id="p4-b6"><path class="bx" d="M444 2174H660L668 2182V2199H444Z"/><text class="t"><tspan x="450" y="2186">6、健康教育还有薄弱环节，学习风气不浓。</tspan></text></g>
<g id="p4-c1"><path class="bx" d="M407 2223H628L636 2231V2345H407Z"/><text class="t"><tspan x="413" y="2236">1、加强业务学习：在"三基三严"的基础上分</tspan><tspan x="413" y="2250">层次培训和学习，做到缺什么补什么、用什么</tspan><tspan x="413" y="2264">学什么，学有所用，用有所长。掌握前沿护理</tspan><tspan x="413" y="2278">知识，促进管理水平和护理质量的提高。(1)</tspan><tspan x="413" y="2292">组织静脉穿刺技术学习、培训和考核。(2)每</tspan><tspan x="413" y="2306">月一次业务讲座，解决工作中出现的问题。(3</tspan><tspan x="413" y="2320">)科室每月组织一项护理技术操作培训和考核</tspan><tspan x="413" y="2334">。</tspan></text></g>
<g id="p4-c2"><path class="bx" d="M407 2368H628L636 2376V2574H407Z"/><text class="t"><tspan x="413" y="2381">2、加强护理质量管理，做到规范操作，确保</tspan><tspan x="413" y="2395">护理安全：重点抓六个关键：(1)抓关键的制</tspan><tspan x="413" y="2409">度，如三查七对制度、消毒隔离制度、交接班</tspan><tspan x="413" y="2423">制度等。(2)抓关键的部门，如手术室、产房</tspan><tspan x="413" y="2437">、注射室、抢救室、供应室、治疗室、换药室</tspan><tspan x="413" y="2451">等。(3)抓关键的人员，如护士长，护理骨干</tspan><tspan x="413" y="2465">，思想波动人员，责任心不强、技术差、新上</tspan><tspan x="413" y="2479">岗的护理人员等。(4)抓关键的病人，如危重</tspan><tspan x="413" y="2493">病人、疑难病人、手术病人、新入院病人等。</tspan><tspan x="413" y="2507">(5)抓关键的环节，如危重抢救、护患沟通、</tspan><tspan x="413" y="2521">临床换药、输血、基础护理和院内感染等。(6</tspan><tspan x="413" y="2535">)抓关键的时间，如交接班、中午班、夜班、</tspan><tspan x="413" y="2549">节假日及其他非正常上班时间，特别繁忙和发</tspan><tspan x="413" y="2563">困易疲劳的时间等。</tspan></text></g>
<g id="p4-c3"><path class="bx" d="M407 2598H628L636 2606V2664H407Z"/><text class="t"><tspan x="413" y="2611">3、加强护理文件书写，强化护理法制意识：</tspan><tspan x="413" y="2625">以"预防为主、持续改进"的管理目标，定期检</tspan><tspan x="413" y="2639">查评估，做到"写我说的，做我写的，记录做</tspan><tspan x="413" y="2653">的，改进不足"，降低护理服务风险。</tspan></text></g>
<g id="p4-c4"><path class="bx" d="M407 2688H628L636 2696V2741H407Z"/><text class="t"><tspan x="413" y="2701">4、进一步完善质控体系：下一步还要成立静</tspan><tspan x="413" y="2715">脉治疗护理小组、母婴护理小组、糖尿病护理</tspan><tspan x="413" y="2729">小组、健康管理护理小组，护士参与。</tspan></text></g>
<g id="p4-c5"><path class="bx" d="M407 2764H628L636 2772V2845H407Z"/><text class="t"><tspan x="413" y="2777">5、按照医院感染管理标准，重点加强消毒隔</tspan><tspan x="413" y="2791">离的督查和医疗废物管理，做到有制度、有流</tspan><tspan x="413" y="2805">程、有落实措施、有自查记录、有督导反馈，</tspan><tspan x="413" y="2819">专人负责。保证医疗废物无渗漏、无流失，使</tspan><tspan x="413" y="2833">院感监控指标达到质量标准。</tspan></text></g>
<g id="p4-c6"><path class="bx" d="M407 2867H628L636 2875V2948H407Z"/><text class="t"><tspan x="413" y="2880">6、加强护理队伍的培养：(1)经常开展各项活</tspan><tspan x="413" y="2894">动，如护理记录范文展示、礼仪表演等。(2)</tspan><tspan x="413" y="2908">定期组织思想素质、业务技能培训。(3)引导</tspan><tspan x="413" y="2922">护理人员的价值观取向,强化道德修养，维护</tspan><tspan x="413" y="2936">护理队伍的稳定性。</tspan></text></g>
<g id="p4-c7"><path class="bx" d="M407 2971H628L636 2979V3024H407Z"/><text class="t"><tspan x="413" y="2984">7、落实好首问、首接负责制，开展优质护理</tspan><tspan x="413" y="2998">服务，品管圈护理，关注细节服务，及时优化</tspan><tspan x="413" y="3012">流程，体现温馨人文的护理理念。</tspan></text></g>

<g id="watermarks">
<text class="wm" transform="translate(653 506) rotate(-31)">树图 shutu.cn</text>
<text class="wm" transform="translate(1919 512) rotate(-31)">树图 shutu.cn</text>
<text class="wm" transform="translate(653 1537) rotate(-31)">树图 shutu.cn</text>
<text class="wm" transform="translate(1919 1547) rotate(-31)">树图 shutu.cn</text>
<text class="wm" transform="translate(653 2542) rotate(-31)">树图 shutu.cn</text>
<text class="wm" transform="translate(1919 2552) rotate(-31)">树图 shutu.cn</text>
</g>
</svg>
